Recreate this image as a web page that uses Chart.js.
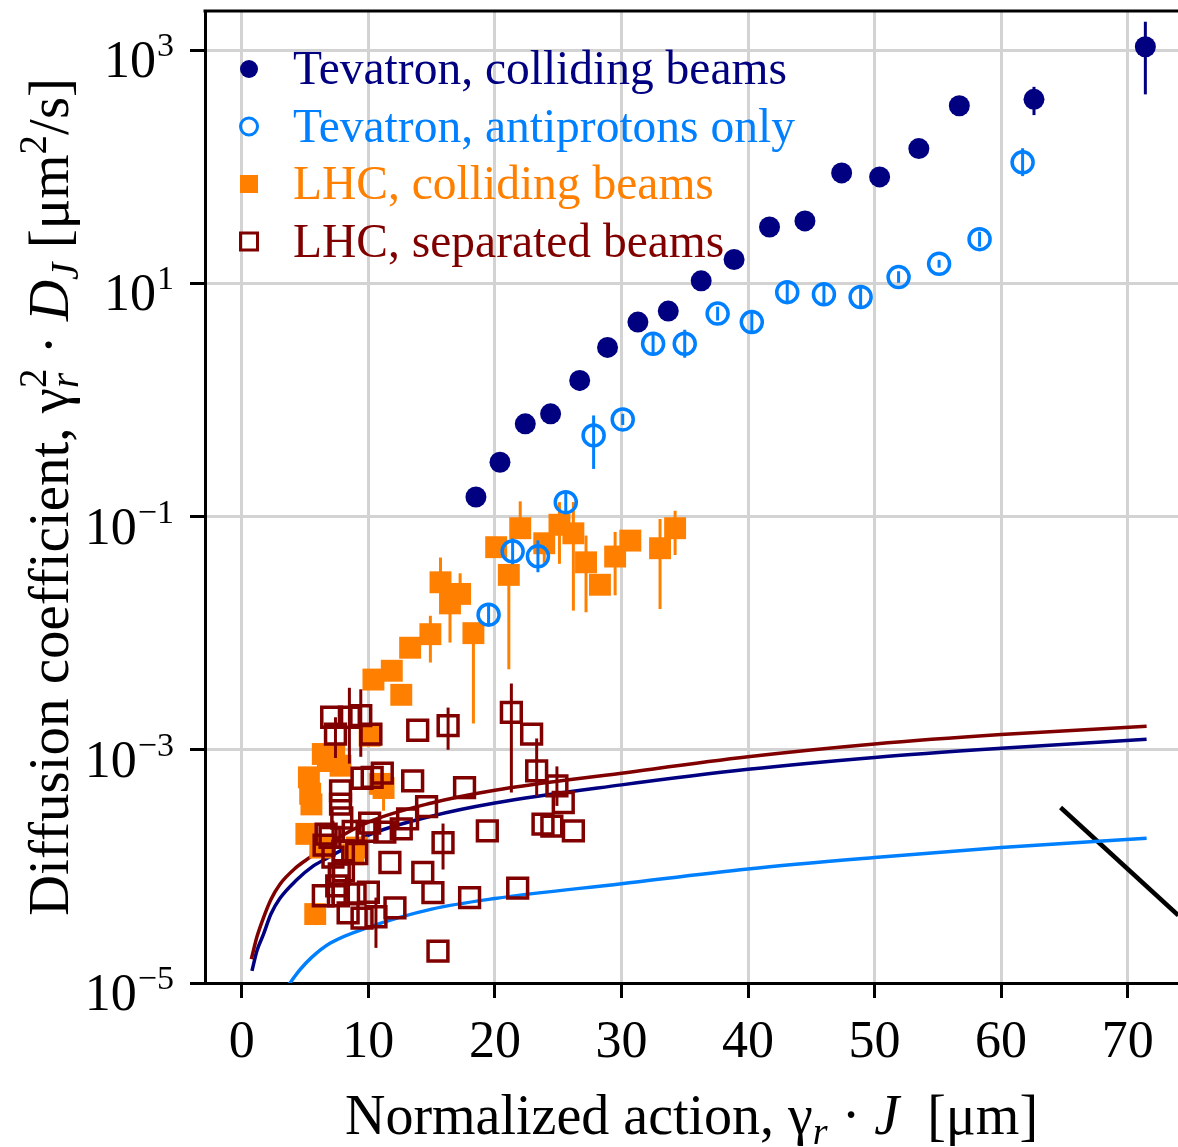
<!DOCTYPE html>
<html>
<head>
<meta charset="utf-8">
<script src="https://cdn.jsdelivr.net/npm/chart.js@4.4.1/dist/chart.umd.min.js"></script>
<style>
  html, body { margin: 0; padding: 0; background: #fff; }
</style>
</head>
<body>
<canvas id="chart" width="1178" height="1147"></canvas>
<script>
// Tevatron, colliding beams
const tevCollX  = [18.5, 20.4, 22.4, 24.4, 26.7, 28.9, 31.3, 33.7, 36.3, 38.9, 41.7, 44.5, 47.4, 50.4, 53.5, 56.7, 62.6, 71.4];
const tevCollY  = [0.147, 0.292, 0.624, 0.76, 1.47, 2.82, 4.65, 5.78, 10.5, 16.0, 30.4, 34.3, 88.5, 81.7, 143, 333, 378, 1067];
const tevCollLo = [0.147, 0.292, 0.624, 0.76, 1.2, 2.82, 4.65, 5.78, 10.5, 16.0, 30.4, 34.3, 88.5, 81.7, 143, 333, 277, 417];
const tevCollHi = [0.147, 0.292, 0.624, 0.76, 1.47, 3.1, 4.65, 5.78, 10.5, 16.0, 30.4, 34.3, 88.5, 81.7, 143, 333, 484, 1750];

// Tevatron, antiprotons only
const tevPbarX  = [19.5, 21.4, 23.4, 25.6, 27.8, 30.1, 32.5, 35.0, 37.6, 40.3, 43.1, 46.0, 48.9, 51.9, 55.1, 58.3, 61.7];
const tevPbarY  = [0.0144, 0.0503, 0.0456, 0.1327, 0.496, 0.68, 3.03, 3.03, 5.5, 4.65, 8.4, 8.05, 7.63, 11.3, 14.7, 23.9, 109];
const tevPbarLo = [0.0116, 0.039, 0.0333, 0.107, 0.256, 0.61, 2.4, 2.3, 4.8, 3.75, 6.9, 6.5, 6.3, 10.1, 13.6, 20.6, 83];
const tevPbarHi = [0.0179, 0.0649, 0.0625, 0.165, 0.736, 0.76, 3.8, 4.0, 6.3, 5.8, 10.2, 10.0, 9.3, 12.7, 15.9, 27.7, 144];

// LHC, colliding beams
const lhcCollX  = [5.1, 5.3, 5.4, 5.5, 5.8, 6.2, 6.4, 6.8, 7.3, 7.8, 8.8, 9.1, 10.1, 10.9, 11.2, 10.4, 11.85, 12.6, 13.3, 14.9,
                   15.7, 16.45, 17.25, 18.3, 20.1, 21.1, 22.0, 23.9, 25.1, 26.2, 27.2, 28.3, 29.5, 30.7, 33.05, 34.24];
const lhcCollY  = [1.9e-4, 5.8e-4, 4.2e-4, 3.4e-4, 3.9e-5, 1.45e-4, 9.2e-4, 8.0e-4, 9.0e-4, 7.3e-4, 1.27e-4, 1.45e-4, 1.32e-3, 5.1e-4, 4.7e-4, 4.0e-3, 4.76e-3, 2.96e-3, 7.5e-3, 9.8e-3,
                   2.73e-2, 1.8e-2, 2.17e-2, 1.0e-2, 5.46e-2, 3.16e-2, 7.94e-2, 5.9e-2, 8.5e-2, 7.18e-2, 4.05e-2, 2.6e-2, 4.54e-2, 6.22e-2, 5.35e-2, 7.94e-2];
const lhcCollLo = [1.9e-4, 5.8e-4, 4.2e-4, 3.4e-4, 3.9e-5, 1.45e-4, 9.2e-4, 8.0e-4, 9.0e-4, 7.3e-4, 1.27e-4, 1.45e-4, 1.32e-3, 5.1e-4, 3.0e-4, 3.3e-3, 4.76e-3, 2.96e-3, 7.5e-3, 5.6e-3,
                   2.73e-2, 8.3e-3, 2.17e-2, 1.68e-3, 5.46e-2, 4.9e-3, 7.94e-2, 4.0e-2, 3.93e-2, 1.56e-2, 1.51e-2, 2.6e-2, 2.11e-2, 6.22e-2, 1.61e-2, 4.68e-2];
const lhcCollHi = [1.9e-4, 5.8e-4, 4.2e-4, 3.4e-4, 3.9e-5, 1.45e-4, 9.2e-4, 8.0e-4, 9.0e-4, 7.3e-4, 1.27e-4, 1.45e-4, 1.32e-3, 5.1e-4, 4.7e-4, 4.0e-3, 4.76e-3, 2.96e-3, 7.5e-3, 1.41e-2,
                   4.45e-2, 1.8e-2, 3.26e-2, 1.0e-2, 5.46e-2, 3.16e-2, 0.135, 7.2e-2, 0.133, 0.133, 6.87e-2, 2.6e-2, 7.38e-2, 6.22e-2, 9.53e-2, 0.112];

// LHC, separated beams
const lhcSepX  = [7.1, 8.5, 9.4, 7.4, 10.2, 13.9, 16.3, 21.3, 22.9, 9.5, 10.3, 11.1, 13.5, 7.8, 7.8, 7.9, 10.1, 14.6, 13.1, 17.6,
                  23.3, 24.9, 25.4, 23.8, 24.5, 26.2, 19.4, 15.9, 11.7, 14.3, 15.1, 18.0, 21.8, 15.5, 6.66, 6.5, 8.8, 9.9, 11.3, 12.6,
                  7.7, 6.44, 7.63, 8.95, 10.0, 8.4, 9.5, 10.6, 12.1, 6.97, 8.03, 9.08, 8.03, 7.5, 7.2];
const lhcSepY  = [1.9e-3, 1.9e-3, 1.96e-3, 1.36e-3, 1.36e-3, 1.47e-3, 1.61e-3, 2.09e-3, 1.36e-3, 5.7e-4, 5.8e-4, 6.3e-4, 5.4e-4, 4.45e-4, 3.42e-4, 2.6e-4, 2.35e-4, 3.25e-4, 2.55e-4, 4.74e-4,
                  6.6e-4, 4.9e-4, 3.53e-4, 2.3e-4, 2.21e-4, 2.02e-4, 2.02e-4, 1.6e-4, 1.08e-4, 8.9e-5, 5.96e-5, 5.4e-5, 6.5e-5, 1.88e-5, 1.89e-4, 1.52e-4, 2.0e-4, 2.0e-4, 1.97e-4, 2.1e-4,
                  8.6e-5, 5.6e-5, 5.6e-5, 5.8e-5, 6.0e-5, 4.0e-5, 3.6e-5, 3.7e-5, 4.4e-5, 1.77e-4, 1.36e-4, 1.29e-4, 9.15e-5, 6.8e-5, 1.2e-4];
const lhcSepLo = [1.9e-3, 7.6e-4, 8.7e-4, 8.5e-4, 1.36e-3, 1.47e-3, 1.0e-3, 4.3e-4, 1.36e-3, 5.7e-4, 5.8e-4, 6.3e-4, 5.4e-4, 4.45e-4, 3.42e-4, 2.6e-4, 2.35e-4, 3.25e-4, 2.55e-4, 4.74e-4,
                  4.0e-4, 3.3e-4, 3.53e-4, 2.3e-4, 2.21e-4, 2.02e-4, 2.02e-4, 9.4e-5, 1.08e-4, 8.9e-5, 5.96e-5, 5.4e-5, 6.5e-5, 1.88e-5, 1.89e-4, 1.52e-4, 2.0e-4, 2.0e-4, 1.97e-4, 2.1e-4,
                  8.6e-5, 5.6e-5, 5.6e-5, 5.8e-5, 6.0e-5, 4.0e-5, 3.6e-5, 2.0e-5, 4.4e-5, 1.77e-4, 1.36e-4, 1.29e-4, 9.15e-5, 6.8e-5, 4.8e-5];
const lhcSepHi = [1.9e-3, 3.4e-3, 3.3e-3, 1.9e-3, 1.36e-3, 1.47e-3, 2.3e-3, 3.7e-3, 1.36e-3, 5.7e-4, 5.8e-4, 6.3e-4, 5.4e-4, 4.45e-4, 3.42e-4, 2.6e-4, 2.35e-4, 3.25e-4, 2.55e-4, 4.74e-4,
                  1.25e-3, 7.2e-4, 3.53e-4, 2.3e-4, 2.21e-4, 2.02e-4, 2.02e-4, 2.33e-4, 1.08e-4, 8.9e-5, 5.96e-5, 5.4e-5, 6.5e-5, 1.88e-5, 1.89e-4, 1.52e-4, 2.0e-4, 2.0e-4, 1.97e-4, 2.1e-4,
                  8.6e-5, 5.6e-5, 5.6e-5, 5.8e-5, 6.0e-5, 4.0e-5, 3.6e-5, 5.4e-5, 4.4e-5, 1.77e-4, 1.36e-4, 1.29e-4, 9.15e-5, 6.8e-5, 2.46e-4];

// model curves
const curveSepX  = [0.75, 1.2, 1.7, 2.3, 3.0, 4.3, 5.4, 7, 10, 15, 20, 30, 40, 50, 60, 71.5];
const curveSepY  = [1.6e-5, 2.5e-5, 3.6e-5, 5.2e-5, 7.0e-5, 9.8e-5, 1.2e-4, 1.6e-4, 2.4e-4, 3.5e-4, 4.5e-4, 6.3e-4, 8.7e-4, 1.12e-3, 1.35e-3, 1.59e-3];
const curveTevX  = [0.8, 1.2, 1.7, 2.3, 3.0, 4.3, 5.6, 6.7, 8, 10, 15, 20, 30, 40, 50, 60, 71.5];
const curveTevY  = [1.27e-5, 1.9e-5, 2.6e-5, 3.9e-5, 5.3e-5, 7.6e-5, 1.0e-4, 1.17e-4, 1.4e-4, 1.85e-4, 2.7e-4, 3.5e-4, 5.0e-4, 6.8e-4, 8.6e-4, 1.03e-3, 1.23e-3];
const curvePbarX = [3.5, 4.6, 5.5, 7, 10, 15, 20, 30, 40, 50, 60, 71.5];
const curvePbarY = [0.9e-5, 1.3e-5, 1.65e-5, 2.2e-5, 3.0e-5, 4.3e-5, 5.3e-5, 7.1e-5, 9.5e-5, 1.19e-4, 1.45e-4, 1.74e-4];
const slopeX = [64.7, 74.0];
const slopeY = [3.2e-4, 3.8e-5];

const xTicks = [0, 10, 20, 30, 40, 50, 60, 70];
const yTicks = [1e-5, 1e-3, 1e-1, 1e1, 1e3];

const legendItems = [
  { text: 'Tevatron, colliding beams',    color: 'rgb(0,0,128)',   marker: 'dot' },
  { text: 'Tevatron, antiprotons only',   color: 'rgb(0,128,255)', marker: 'ring' },
  { text: 'LHC, colliding beams',         color: 'rgb(255,128,0)', marker: 'box' },
  { text: 'LHC, separated beams',         color: 'rgb(128,0,0)',   marker: 'square' }
];

const NAVY = 'rgb(0,0,128)', SKY = 'rgb(0,128,255)', ORANGE = 'rgb(255,128,0)', MAROON = 'rgb(128,0,0)';
const SERIF = '"Liberation Serif", "Times New Roman", serif';

let pts = (xs, ys) => xs.map((x, i) => ({ x: x, y: ys[i] }));

// error bars, drawn just before each dataset so markers sit on top
const errorBars = {
  id: 'errorBars',
  beforeDatasetDraw(chart, args) {
    const ds = chart.data.datasets[args.index];
    if (!ds.errLo) return;
    const ctx = chart.ctx, xs = chart.scales.x, ys = chart.scales.y, a = chart.chartArea;
    ctx.save();
    ctx.beginPath();
    ctx.rect(a.left, a.top, a.right - a.left, a.bottom - a.top);
    ctx.clip();
    ctx.strokeStyle = ds.barColor;
    ctx.lineWidth = 3;
    ds.data.forEach((p, i) => {
      const px = xs.getPixelForValue(p.x);
      ctx.beginPath();
      ctx.moveTo(px, ys.getPixelForValue(ds.errLo[i]));
      ctx.lineTo(px, ys.getPixelForValue(ds.errHi[i]));
      ctx.stroke();
    });
    ctx.restore();
  }
};

function drawRuns(ctx, runs, x, y) {
  let fnt = r => (r.it ? 'italic ' : '') + r.s + 'px ' + SERIF;
  let wid = r => {
    ctx.font = fnt(r);
    return ctx.measureText(r.t).width;
  };
  let total = 0;
  runs.forEach(r => { total += r.pair ? Math.max(wid(r), wid(r.pair)) : wid(r); });
  let cx = x - total / 2;
  runs.forEach(r => {
    ctx.font = fnt(r);
    ctx.fillText(r.t, cx, y + (r.dy || 0));
    let w = ctx.measureText(r.t).width;
    if (r.pair) {
      ctx.font = fnt(r.pair);
      ctx.fillText(r.pair.t, cx, y + (r.pair.dy || 0));
      w = Math.max(w, ctx.measureText(r.pair.t).width);
    }
    cx += w;
  });
}

const decorations = {
  id: 'decorations',
  afterDraw(chart) {
    const ctx = chart.ctx, a = chart.chartArea, ys = chart.scales.y;
    ctx.save();
    // top frame line
    ctx.strokeStyle = '#000';
    ctx.lineWidth = 3;
    ctx.beginPath();
    ctx.moveTo(a.left - 1.5, a.top);
    ctx.lineTo(a.right, a.top);
    ctx.stroke();

    // y tick labels 10^n
    ctx.fillStyle = '#000';
    ctx.textBaseline = 'alphabetic';
    yTicks.forEach(v => {
      const py = ys.getPixelForValue(v);
      const e = Math.round(Math.log10(v));
      const ex = e < 0 ? '\u2212' + (-e) : String(e);
      ctx.textAlign = 'right';
      ctx.font = '34px ' + SERIF;
      const ew = ctx.measureText(ex).width;
      ctx.fillText(ex, 174, py + 6);
      ctx.font = '52px ' + SERIF;
      ctx.fillText('10', 174 - ew - 1, py + 27);
    });

    // axis titles
    ctx.textAlign = 'left';
    drawRuns(ctx, [
      { t: 'Normalized action, \u03b3', s: 56 },
      { t: 'r', s: 38, it: true, dy: 10 },
      { t: ' \u00b7 ', s: 56 },
      { t: 'J', s: 56, it: true },
      { t: '  [\u03bcm]', s: 56 }
    ], (a.left + a.right) / 2, 1134);

    ctx.save();
    ctx.translate(68, (a.top + a.bottom) / 2);
    ctx.rotate(-Math.PI / 2);
    drawRuns(ctx, [
      { t: 'Diffusion coefficient, \u03b3', s: 57 },
      { t: '2', s: 39, dy: -22, pair: { t: 'r', s: 39, it: true, dy: 10 } },
      { t: ' \u00b7 ', s: 57 },
      { t: 'D', s: 57, it: true },
      { t: 'J', s: 39, it: true, dy: 10 },
      { t: ' [\u03bcm', s: 57 },
      { t: '2', s: 39, dy: -22 },
      { t: '/s]', s: 57 }
    ], 0, 0);
    ctx.restore();

    // legend inside the plot
    legendItems.forEach((it, i) => {
      const cy = 69 + i * 57.5;
      const mx = 249;
      ctx.fillStyle = it.color;
      ctx.strokeStyle = it.color;
      ctx.lineWidth = 3;
      if (it.marker === 'dot') {
        ctx.beginPath(); ctx.arc(mx, cy, 9, 0, Math.PI * 2); ctx.fill();
      } else if (it.marker === 'ring') {
        ctx.beginPath(); ctx.arc(mx, cy, 8.5, 0, Math.PI * 2); ctx.stroke();
      } else if (it.marker === 'box') {
        ctx.fillRect(mx - 9, cy - 9, 18, 18);
      } else {
        ctx.strokeRect(mx - 8.5, cy - 8.5, 17, 17);
      }
      ctx.font = '47.5px ' + SERIF;
      ctx.textAlign = 'left';
      ctx.textBaseline = 'alphabetic';
      ctx.fillText(it.text, 293, cy + 15);
    });
    ctx.restore();
  }
};

let lineSet = (label, xs, ys, color, width, order) => ({
  type: 'line', label: label, data: pts(xs, ys), borderColor: color, borderWidth: width,
  pointRadius: 0, fill: false, cubicInterpolationMode: 'monotone', order: order
});

const chart = new Chart(document.getElementById('chart'), {
  type: 'scatter',
  data: {
    datasets: [
      {
        label: 'Tevatron, colliding beams', data: pts(tevCollX, tevCollY), errLo: tevCollLo, errHi: tevCollHi,
        barColor: NAVY, pointStyle: 'circle', pointRadius: 10.5, backgroundColor: NAVY, borderWidth: 0, order: 1
      },
      {
        label: 'Tevatron, antiprotons only', data: pts(tevPbarX, tevPbarY), errLo: tevPbarLo, errHi: tevPbarHi,
        barColor: SKY, pointStyle: 'circle', pointRadius: 10.5, backgroundColor: 'rgba(0,0,0,0)', borderColor: SKY, borderWidth: 3.5, order: 2
      },
      {
        label: 'LHC, separated beams', data: pts(lhcSepX, lhcSepY), errLo: lhcSepLo, errHi: lhcSepHi,
        barColor: MAROON, pointStyle: 'rect', pointRadius: 14, backgroundColor: 'rgba(0,0,0,0)', borderColor: MAROON, borderWidth: 3.5, order: 3
      },
      {
        label: 'LHC, colliding beams', data: pts(lhcCollX, lhcCollY), errLo: lhcCollLo, errHi: lhcCollHi,
        barColor: ORANGE, pointStyle: 'rect', pointRadius: 15.5, backgroundColor: ORANGE, borderWidth: 0, order: 4
      },
      lineSet('model, separated', curveSepX, curveSepY, MAROON, 3.5, 5),
      lineSet('model, Tevatron', curveTevX, curveTevY, NAVY, 3.5, 6),
      lineSet('model, antiprotons', curvePbarX, curvePbarY, SKY, 3.5, 7),
      { type: 'line', label: 'slope', data: pts(slopeX, slopeY), borderColor: '#000', borderWidth: 4.5, pointRadius: 0, order: 8 }
    ]
  },
  options: {
    responsive: false,
    animation: false,
    devicePixelRatio: 1,
    events: [],
    layout: { autoPadding: false, padding: { top: 11, left: 0, right: 0, bottom: 0 } },
    plugins: { legend: { display: false }, tooltip: { enabled: false } },
    scales: {
      x: {
        type: 'linear', min: -2.91, max: 73.98,
        afterBuildTicks: s => { s.ticks = xTicks.map(v => ({ value: v })); },
        afterFit: s => { s.height = 164; },
        grid: { color: '#d3d3d3', lineWidth: 3, tickColor: '#000', tickWidth: 3, tickLength: 15 },
        border: { color: '#000', width: 3 },
        ticks: { font: { family: SERIF, size: 52 }, color: '#000', padding: 14, maxRotation: 0, autoSkip: false }
      },
      y: {
        type: 'logarithmic', min: 1e-5, max: 2163,
        afterBuildTicks: s => { s.ticks = yTicks.map(v => ({ value: v })); },
        afterFit: s => { s.width = 205; },
        grid: { color: '#d3d3d3', lineWidth: 3, tickColor: '#000', tickWidth: 3, tickLength: 15 },
        border: { color: '#000', width: 3 },
        ticks: { display: false }
      }
    }
  },
  plugins: [errorBars, decorations]
});
</script>
</body>
</html>
